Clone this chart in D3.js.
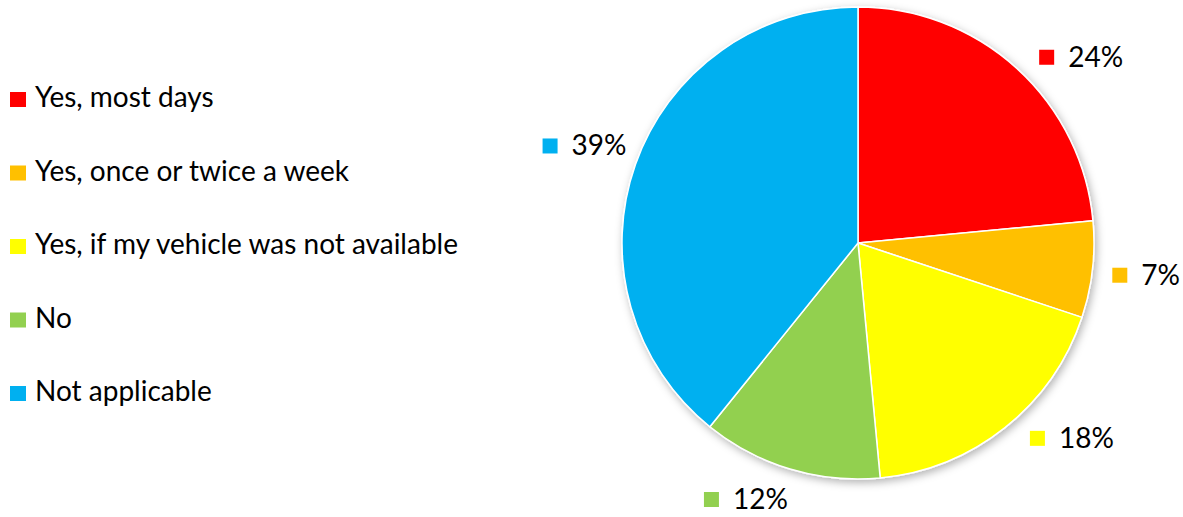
<!DOCTYPE html>
<html>
<head>
<meta charset="utf-8">
<script src="https://cdn.jsdelivr.net/npm/d3@7"></script>
<style>
  body { margin: 0; background: #fff; }
  svg { display: block; font-family: Lato, "Source Sans Pro", sans-serif; }
</style>
</head>
<body>
<svg id="chart" width="1183" height="517"></svg>
<script>
// answers and their shares (percent; labels are rounded)
const categories = ['Yes, most days', 'Yes, once or twice a week', 'Yes, if my vehicle was not available', 'No', 'Not applicable'];
const shares = [23.5, 6.6, 18.4, 12.3, 39.2];
const colors = ['#ff0000', '#ffc000', '#ffff00', '#92d050', '#00b0f0'];

const svg = d3.select('#chart');
const width = 1183, height = 517;
const cx = 858, cy = 243, radius = 236;
const fontSize = 28;

// soft shadow under the pie
const defs = svg.append('defs');
defs.append('filter')
	.attr('id', 'shadow')
	.attr('x', '-20%').attr('y', '-20%').attr('width', '140%').attr('height', '140%')
	.append('feDropShadow')
	.attr('dx', 2).attr('dy', 3)
	.attr('stdDeviation', 4)
	.attr('flood-color', '#000')
	.attr('flood-opacity', 0.3);

let data = categories.map((c, i) => ({name: c, value: shares[i], color: colors[i]}));

let pie = d3.pie()
	.value(d => d.value)
	.sort(null);
let arcs = pie(data);

let arc = d3.arc()
	.innerRadius(0)
	.outerRadius(radius);

let g = svg.append('g')
	.attr('transform', `translate(${cx},${cy})`);

g.append('g')
	.attr('filter', 'url(#shadow)')
	.selectAll('path')
	.data(arcs)
	.enter()
	.append('path')
	.attr('d', arc)
	.attr('fill', d => d.data.color)
	.attr('stroke', '#fff')
	.attr('stroke-width', 1.5)
	.attr('stroke-linejoin', 'round');

// data labels: a coloured key square + percentage, set around the pie
// excel's best-fit layout shifts them a bit off the slice middles (degrees)
const labelR = 290;
const labelNudge = [8, 0, -9, 6, 0];
let labels = g.append('g')
	.selectAll('g')
	.data(arcs)
	.enter()
	.append('g');

labels.each(function(d, i) {
	let el = d3.select(this);
	let t = el.append('text')
		.attr('x', 29)
		.attr('y', 0)
		.attr('font-size', fontSize)
		.attr('fill', '#000')
		.text(Math.round(d.data.value) + '%');
	el.append('rect')
		.attr('x', 0)
		.attr('y', -17)
		.attr('width', 15)
		.attr('height', 15)
		.attr('fill', d.data.color);
	let w = 29 + t.node().getComputedTextLength();
	let mid = (d.startAngle + d.endAngle) / 2 + labelNudge[i] * Math.PI / 180;
	let x = Math.sin(mid) * labelR;
	let y = Math.min(-Math.cos(mid) * labelR, height - cy - 17);
	el.attr('transform', `translate(${x - w / 2},${y + 9})`);
});

// legend on the left
let legendY = d3.scalePoint()
	.domain(categories)
	.range([107, 401]);

let legend = svg.append('g')
	.selectAll('g')
	.data(data)
	.enter()
	.append('g')
	.attr('transform', d => `translate(10,${legendY(d.name)})`);

legend.append('rect')
	.attr('x', 0)
	.attr('y', -15)
	.attr('width', 16)
	.attr('height', 15)
	.attr('fill', d => d.color);

legend.append('text')
	.attr('x', 25)
	.attr('y', 0)
	.attr('font-size', fontSize)
	.attr('fill', '#000')
	.text(d => d.name);
</script>
</body>
</html>
